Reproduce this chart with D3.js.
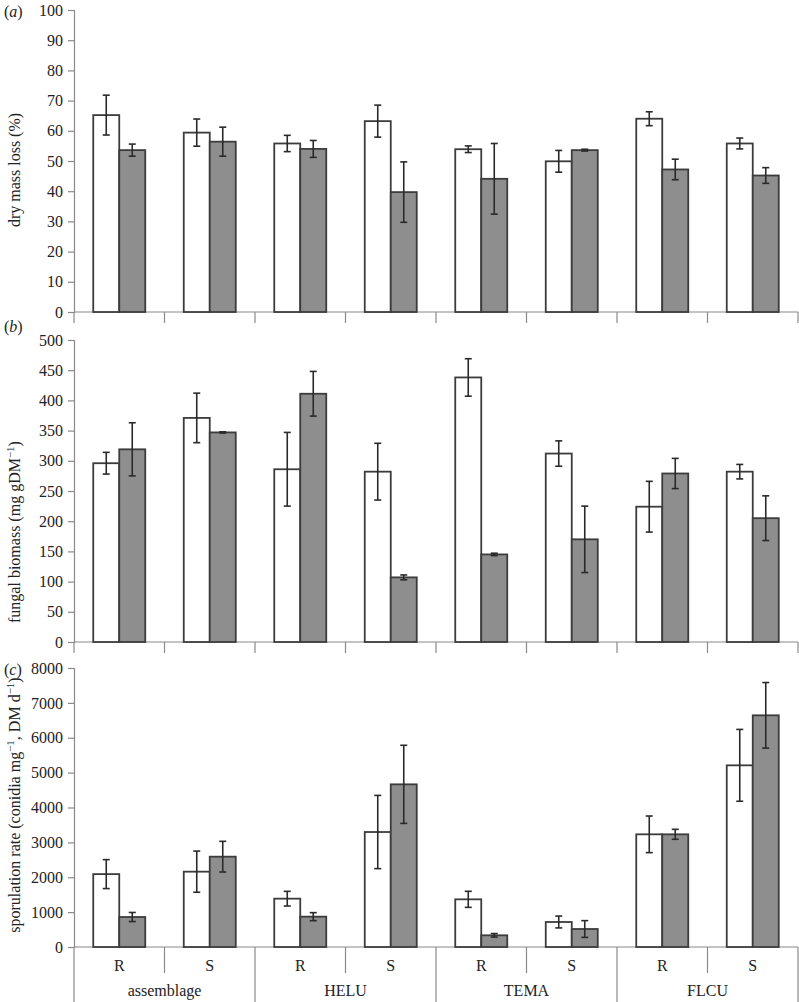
<!DOCTYPE html>
<html><head><meta charset="utf-8">
<script src="https://cdn.jsdelivr.net/npm/d3@7"></script>
<style>body{margin:0;background:#fff}svg{display:block}text{font-family:"Liberation Serif","Times New Roman",serif;fill:#222}</style>
</head><body>
<svg id="c" width="799" height="1002"></svg>
<script>
const groups = ["assemblage","HELU","TEMA","FLCU"];
const subs = ["R","S"];

const massWhite    = [65.2, 59.4, 55.8, 63.2, 53.9, 49.9, 64.0, 55.8];
const massWhiteErr = [6.6, 4.5, 2.7, 5.3, 1.1, 3.6, 2.3, 1.8];
const massGray     = [53.6, 56.4, 54.0, 39.7, 44.1, 53.6, 47.2, 45.2];
const massGrayErr  = [2.0, 4.8, 2.8, 10.0, 11.7, 0.3, 3.4, 2.6];

const bioWhite    = [296, 371, 286, 282, 438, 312, 224, 282];
const bioWhiteErr = [18, 41, 61, 47, 31, 21, 42, 12];
const bioGray     = [319, 347, 411, 107, 145, 170, 279, 205];
const bioGrayErr  = [44, 1, 37, 4, 2, 55, 25, 37];

const sporWhite    = [2090, 2160, 1386, 3297, 1367, 717, 3231, 5209];
const sporWhiteErr = [415, 590, 210, 1050, 230, 170, 525, 1030];
const sporGray     = [860, 2590, 870, 4664, 335, 516, 3231, 6643];
const sporGrayErr  = [130, 440, 115, 1120, 50, 240, 143, 940];

const ticksA = [0,10,20,30,40,50,60,70,80,90,100];
const ticksB = [0,50,100,150,200,250,300,350,400,450,500];
const ticksC = [0,1000,2000,3000,4000,5000,6000,7000,8000];

const svg = d3.select("#c");
const axisColor = "#8a8a8a", barStroke = "#3c3c3c", grayFill = "#8e8e8e";
const x0 = 74, x1 = 798;
const cats = [];
groups.forEach(g => subs.forEach(s => cats.push(g + "|" + s)));
const x = d3.scaleBand().domain(cats).range([x0, x1]).paddingInner(0).paddingOuter(0);
const xs = d3.scaleBand().domain(["w","g"]).range([19.25, x.bandwidth() - 19.25]).padding(0);

const panels = [
  {label:"a", top:10, bottom:312, max:100, ticks:ticksA, w:massWhite, we:massWhiteErr, g:massGray, ge:massGrayErr,
   title:[["dry mass loss (%)",false]], ty:170},
  {label:"b", top:340, bottom:642, max:500, ticks:ticksB, w:bioWhite, we:bioWhiteErr, g:bioGray, ge:bioGrayErr,
   title:[["fungal biomass (mg gDM",false],["−1",true],[")",false]], ty:532},
  {label:"c", top:668, bottom:947, max:8000, ticks:ticksC, w:sporWhite, we:sporWhiteErr, g:sporGray, ge:sporGrayErr,
   title:[["sporulation rate (conidia mg",false],["−1",true],[", DM d",false],["−1",true],[")",false]], ty:805}
];

panels.forEach((p, pi) => {
  const y = d3.scaleLinear().domain([0, p.max]).range([p.bottom, p.top]);
  const gA = svg.append("g").attr("transform", `translate(${x0},0)`)
    .call(d3.axisLeft(y).tickValues(p.ticks).tickSize(6).tickPadding(5).tickFormat(d3.format("d")));
  gA.select(".domain").attr("stroke", axisColor).attr("stroke-width", 1.2);
  gA.selectAll(".tick line").attr("stroke", axisColor).attr("stroke-width", 1.2);
  gA.selectAll(".tick text").attr("font-size", 16).attr("font-family", "Liberation Serif").attr("fill", "#222");

  // x axis baseline
  svg.append("line").attr("x1", x0).attr("x2", x1).attr("y1", p.bottom).attr("y2", p.bottom)
    .attr("stroke", axisColor).attr("stroke-width", 1.2);

  const bounds = cats.map(c => x(c)).concat([x1]);
  if (pi < 2) {
    svg.append("g").selectAll("line").data(bounds).join("line")
      .attr("x1", d => d).attr("x2", d => d).attr("y1", p.bottom).attr("y2", p.bottom + 11)
      .attr("stroke", axisColor).attr("stroke-width", 1.2);
  } else {
    svg.append("g").selectAll("line").data(bounds).join("line")
      .attr("x1", d => d).attr("x2", d => d).attr("y1", p.bottom)
      .attr("y2", (d, i) => i % 2 === 0 ? 1002 : p.bottom + 26)
      .attr("stroke", axisColor).attr("stroke-width", 1.2);
    svg.append("g").selectAll("text").data(cats).join("text")
      .attr("x", d => x(d) + x.bandwidth() / 2).attr("y", 971).attr("text-anchor", "middle")
      .attr("font-size", 16).text(d => d.split("|")[1]);
    svg.append("g").selectAll("text").data(groups).join("text")
      .attr("x", d => x(d + "|R") + x.bandwidth()).attr("y", 996).attr("text-anchor", "middle")
      .attr("font-size", 16).text(d => d);
  }

  // bars
  const rows = [];
  cats.forEach((c, i) => {
    rows.push({c, k:"w", v:p.w[i], e:p.we[i]});
    rows.push({c, k:"g", v:p.g[i], e:p.ge[i]});
  });
  const gb = svg.append("g");
  gb.selectAll("rect").data(rows).join("rect")
    .attr("x", d => x(d.c) + xs(d.k)).attr("width", xs.bandwidth())
    .attr("y", d => y(d.v)).attr("height", d => y(0) - y(d.v))
    .attr("fill", d => d.k === "w" ? "#fff" : grayFill)
    .attr("stroke", barStroke).attr("stroke-width", 1.8);
  const ge = svg.append("g").attr("stroke", "#2a2a2a").attr("stroke-width", 1.6);
  rows.forEach(d => {
    const cx = x(d.c) + xs(d.k) + xs.bandwidth() / 2;
    const yt = y(d.v + d.e), yb = y(d.v - d.e);
    ge.append("line").attr("x1", cx).attr("x2", cx).attr("y1", yt).attr("y2", yb);
    ge.append("line").attr("x1", cx - 3.5).attr("x2", cx + 3.5).attr("y1", yt).attr("y2", yt);
    ge.append("line").attr("x1", cx - 3.5).attr("x2", cx + 3.5).attr("y1", yb).attr("y2", yb);
  });

  // panel label
  const lt = svg.append("text").attr("x", 4).attr("y", p.top + (pi === 1 ? -8 : 7)).attr("font-size", 16);
  lt.append("tspan").text("(");
  lt.append("tspan").attr("font-style", "italic").text(p.label);
  lt.append("tspan").text(")");

  // y title
  const tt = svg.append("text").attr("transform", `translate(20,${p.ty}) rotate(-90)`)
    .attr("text-anchor", "middle").attr("font-size", 16);
  p.title.forEach(([t, sup]) => {
    const ts = tt.append("tspan").text(t);
    if (sup) ts.attr("font-size", 11).attr("baseline-shift", "super");
  });
});
</script>
</body></html>
